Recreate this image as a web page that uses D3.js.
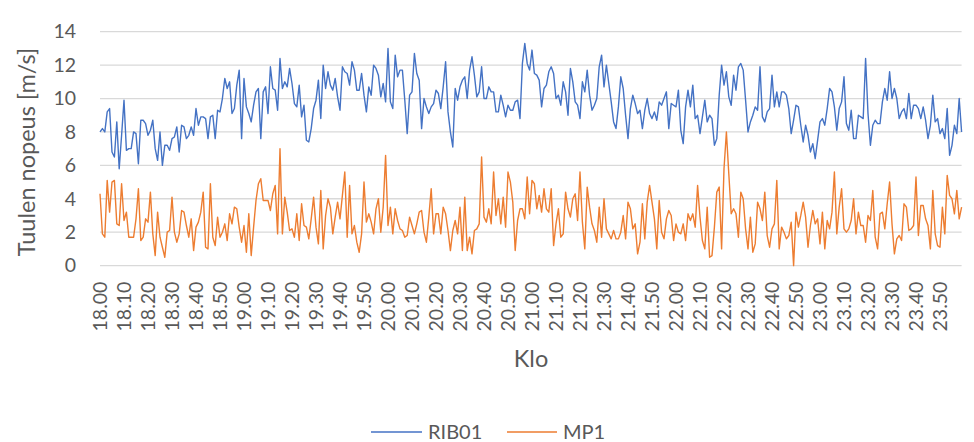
<!DOCTYPE html>
<html>
<head>
<meta charset="utf-8">
<script src="https://cdn.jsdelivr.net/npm/d3@7"></script>
<style>
  html, body { margin: 0; padding: 0; background: #fff; }
  svg { display: block; }
  text { font-family: Lato, "Open Sans", sans-serif; fill: #595959; }
</style>
</head>
<body>
<svg id="chart" width="974" height="442"></svg>
<script>
// ---- data ----
const startHour = 18;
const endHour = 23;
const tickLabels = ["18.00","18.10","18.20","18.30","18.40","18.50",
  "19.00","19.10","19.20","19.30","19.40","19.50",
  "20.00","20.10","20.20","20.30","20.40","20.50",
  "21.00","21.10","21.20","21.30","21.40","21.50",
  "22.00","22.10","22.20","22.30","22.40","22.50",
  "23.00","23.10","23.20","23.30","23.40","23.50"];
const yTicks = [0, 2, 4, 6, 8, 10, 12, 14];
const seriesNames = ["RIB01", "MP1"];

const rib01 = [
  8.0,8.2,8.0,9.2,9.4,6.8,6.5,8.6,5.8,7.8,9.9,6.9,7.0,7.0,8.0,7.9,6.1,8.7,8.7,8.5,
  7.8,8.1,8.7,7.0,6.3,8.0,6.0,7.2,7.2,6.9,7.6,7.7,8.3,6.8,8.4,8.3,7.6,7.8,8.3,7.8,
  9.4,8.4,8.9,8.9,8.8,7.6,
  8.9,9.0,7.6,9.3,9.2,10.0,11.2,10.6,11.0,9.1,9.4,10.8,11.7,7.6,11.2,9.5,9.1,8.6,9.6,10.4,
  10.6,7.6,10.4,10.7,9.1,11.9,10.6,10.5,9.3,12.4,10.6,11.0,10.7,11.8,10.9,9.7,9.5,10.8,8.9,9.6,
  7.5,7.4,8.2,9.4,9.9,11.1,8.8,12.0,10.6,11.6,10.8,
  10.5,11.2,10.1,9.3,11.9,11.6,11.5,10.8,12.2,11.7,10.5,10.5,11.5,10.2,9.2,10.7,10.2,12.0,11.8,11.4,
  10.1,10.9,9.8,13.0,9.8,9.4,12.6,11.3,11.7,11.7,9.9,7.9,10.2,10.4,12.7,11.5,11.1,8.2,10.0,9.5,
  9.1,9.5,9.7,10.5,10.3,9.4,10.7,12.2,9.2,8.0,
  7.1,10.6,9.9,10.7,11.1,11.3,10.0,11.7,12.5,11.4,10.1,10.4,11.9,10.0,10.0,10.7,10.4,10.4,9.2,9.2,
  10.2,9.6,8.9,9.6,9.3,9.3,9.8,9.9,8.8,12.1,13.3,12.1,11.7,12.9,11.5,11.4,11.1,9.5,10.6,10.8,
  11.6,11.9,11.5,10.0,10.2,9.6,11.0,10.4,9.0,11.8,
  11.0,9.8,9.6,8.8,11.0,10.4,11.7,10.2,9.3,9.6,10.0,11.9,12.6,10.7,12.0,10.9,9.8,8.6,8.2,9.5,
  11.3,10.6,9.0,7.6,9.4,10.2,9.7,9.1,9.3,8.2,9.3,10.0,9.1,8.8,9.2,8.7,9.8,9.6,10.0,10.4,
  8.2,9.7,9.6,9.5,10.5,8.1,7.3,9.5,10.5,9.5,
  10.8,8.8,9.0,7.9,8.9,9.9,8.6,9.0,8.8,7.2,7.6,10.2,12.0,10.8,11.6,10.1,9.6,11.4,10.5,11.9,
  12.1,11.7,9.9,8.0,8.6,9.0,9.5,9.3,11.9,8.9,8.6,9.2,9.4,11.4,9.5,10.4,9.5,10.4,10.4,10.2,
  9.4,7.9,8.7,9.6,9.5,8.4,7.4,8.4,7.8,6.8,
  7.3,6.4,7.5,8.6,8.8,8.4,9.4,10.6,10.4,9.5,8.1,9.4,9.8,11.3,8.5,8.1,9.3,7.6,7.6,9.0,
  8.9,8.8,12.4,9.1,7.2,8.4,8.7,8.5,8.5,9.8,10.6,9.9,11.6,10.0,10.6,10.0,8.8,9.2,9.4,8.8,
  10.3,8.8,9.6,9.6,9.4,8.8,9.5,8.7,7.6,8.4,10.2,8.6,8.8,7.9,8.2,7.6,9.4,6.6,7.2,8.4,
  7.9,10.0,8.0
];

const mp1 = [
  4.3,1.9,1.7,5.1,3.2,5.0,5.1,2.5,2.4,4.9,2.7,3.2,1.7,1.7,1.7,2.8,4.6,1.5,1.7,2.8,
  2.6,4.4,1.9,0.6,3.2,1.7,1.1,0.5,2.0,2.1,4.1,2.0,1.4,1.9,3.3,3.2,2.4,1.7,2.8,0.9,
  2.3,2.6,3.2,4.4,1.1,1.0,
  4.9,1.7,1.2,2.9,1.7,2.0,2.5,1.5,3.1,2.5,3.5,3.4,2.3,1.4,2.4,0.8,3.1,0.6,2.3,3.9,
  4.9,5.2,3.9,3.9,3.9,3.3,4.3,4.8,1.9,7.0,1.9,4.1,3.2,2.1,2.2,1.7,3.1,1.5,3.7,2.4,
  2.3,1.6,2.8,4.1,2.3,1.3,4.5,1.0,3.0,4.0,3.5,
  1.9,2.9,3.8,2.8,4.2,5.6,1.7,4.8,1.9,2.4,1.4,0.8,1.9,5.0,2.6,3.1,2.6,1.9,3.4,4.0,
  2.0,3.5,6.6,2.4,3.5,1.9,3.4,2.7,2.2,2.1,1.7,1.8,2.9,2.4,1.9,2.5,3.2,3.3,2.0,1.4,
  2.9,4.6,1.9,3.1,3.1,1.9,3.5,3.1,2.1,0.9,
  2.1,2.7,1.9,3.5,0.9,4.1,0.9,1.7,0.7,2.1,2.2,2.5,6.5,2.9,2.6,3.4,2.5,5.6,3.0,4.0,
  2.5,4.1,2.3,5.6,5.0,3.8,0.9,2.7,3.4,3.4,2.8,5.3,3.1,5.1,4.9,3.4,4.2,3.2,4.6,3.4,
  3.2,4.6,1.2,2.5,3.4,1.7,1.9,4.4,3.4,2.9,
  4.0,4.3,2.7,5.6,2.6,1.0,4.7,3.5,2.5,2.1,1.4,3.5,1.7,4.0,2.2,1.9,1.6,2.1,1.6,1.6,
  2.0,3.0,1.6,3.8,3.4,2.2,2.5,0.7,1.4,3.7,1.6,3.8,4.8,3.8,2.8,1.0,3.9,2.0,1.6,2.8,
  3.3,3.0,1.5,2.5,2.0,1.9,2.5,1.5,3.1,2.7,
  3.1,2.3,4.8,2.9,1.5,1.0,3.5,0.5,0.6,2.3,4.4,4.7,1.0,5.8,8.0,5.5,3.1,3.4,3.1,1.7,
  4.4,4.0,2.2,1.0,2.9,0.8,1.3,3.8,3.4,2.7,4.4,1.8,1.1,2.2,2.5,5.1,1.0,2.3,2.0,1.6,
  1.8,2.6,0.0,3.2,2.3,3.0,3.8,2.9,1.1,2.4,
  3.3,2.5,2.8,1.3,3.2,1.0,2.7,2.2,3.2,5.6,1.9,3.5,4.6,2.2,2.0,2.2,2.7,4.0,1.9,3.2,
  2.4,2.4,1.4,3.0,2.7,4.5,1.7,1.0,3.1,3.2,2.2,3.7,5.0,2.5,0.7,1.6,1.8,1.5,3.7,3.5,
  2.1,2.2,2.4,5.3,1.8,3.6,3.6,2.8,2.4,1.0,4.5,1.9,1.2,1.1,3.5,1.9,5.4,4.2,4.0,3.1,
  4.5,2.8,3.5
];

// category labels: one per minute
const categories = [];
for (let h = startHour; h <= endHour; h++) {
  for (let m = 0; m < 60; m++) categories.push(h + "." + String(m).padStart(2, "0"));
}

// ---- layout ----
const svg = d3.select("#chart");
const plotLeft = 100, plotRight = 961.6, plotTop = 31.7, plotBottom = 265.6;
const colors = ["#4472C4", "#ED7D31"];

const x = d3.scalePoint().domain(categories).range([plotLeft, plotRight]);
const y = d3.scaleLinear().domain([0, 14]).range([plotBottom, plotTop]);

// gridlines
svg.append("g").selectAll("line").data(yTicks).join("line")
  .attr("x1", plotLeft).attr("x2", plotRight)
  .attr("y1", d => y(d)).attr("y2", d => y(d))
  .attr("stroke", "#D9D9D9").attr("stroke-width", 1.3);

// y axis
const yAxis = svg.append("g").attr("transform", `translate(${plotLeft - 24},0)`)
  .call(d3.axisLeft(y).tickValues(yTicks).tickSize(0).tickPadding(0));
yAxis.select(".domain").remove();
yAxis.selectAll("text").attr("font-size", 19.5).attr("fill", "#595959")
  .style("font-family", "Lato, sans-serif");

// x axis
const xAxis = svg.append("g").attr("transform", `translate(0,${plotBottom})`)
  .call(d3.axisBottom(x).tickValues(tickLabels).tickSize(0));
xAxis.select(".domain").remove();
xAxis.selectAll("text")
  .attr("font-size", 19.5).attr("fill", "#595959")
  .style("font-family", "Lato, sans-serif")
  .attr("text-anchor", "end")
  .attr("transform", "rotate(-90)")
  .attr("x", -16).attr("y", 0).attr("dy", "0.35em");

// lines
const series = [rib01, mp1];
const line = d3.line()
  .x((d, i) => x(categories[i]))
  .y(d => y(d));
series.forEach((s, k) => {
  svg.append("path").datum(s)
    .attr("fill", "none")
    .attr("stroke", colors[k])
    .attr("stroke-width", 1.4)
    .attr("stroke-linejoin", "round")
    .attr("d", line);
});

// axis titles
svg.append("text")
  .attr("transform", `translate(35,152) rotate(-90)`)
  .attr("text-anchor", "middle")
  .attr("font-size", 23.5)
  .text("Tuulen nopeus [m/s]");

svg.append("text")
  .attr("x", 531).attr("y", 367)
  .attr("text-anchor", "middle")
  .attr("font-size", 23.5)
  .text("Klo");

// legend
const legendItems = [
  { name: seriesNames[0], color: colors[0], x1: 371, x2: 422, tx: 428 },
  { name: seriesNames[1], color: colors[1], x1: 507, x2: 557, tx: 563 }
];
const lg = svg.append("g");
legendItems.forEach(it => {
  lg.append("line").attr("x1", it.x1).attr("x2", it.x2)
    .attr("y1", 432).attr("y2", 432)
    .attr("stroke", it.color).attr("stroke-width", 1.5);
  lg.append("text").attr("x", it.tx).attr("y", 439)
    .attr("font-size", 20).text(it.name);
});
</script>
</body>
</html>
